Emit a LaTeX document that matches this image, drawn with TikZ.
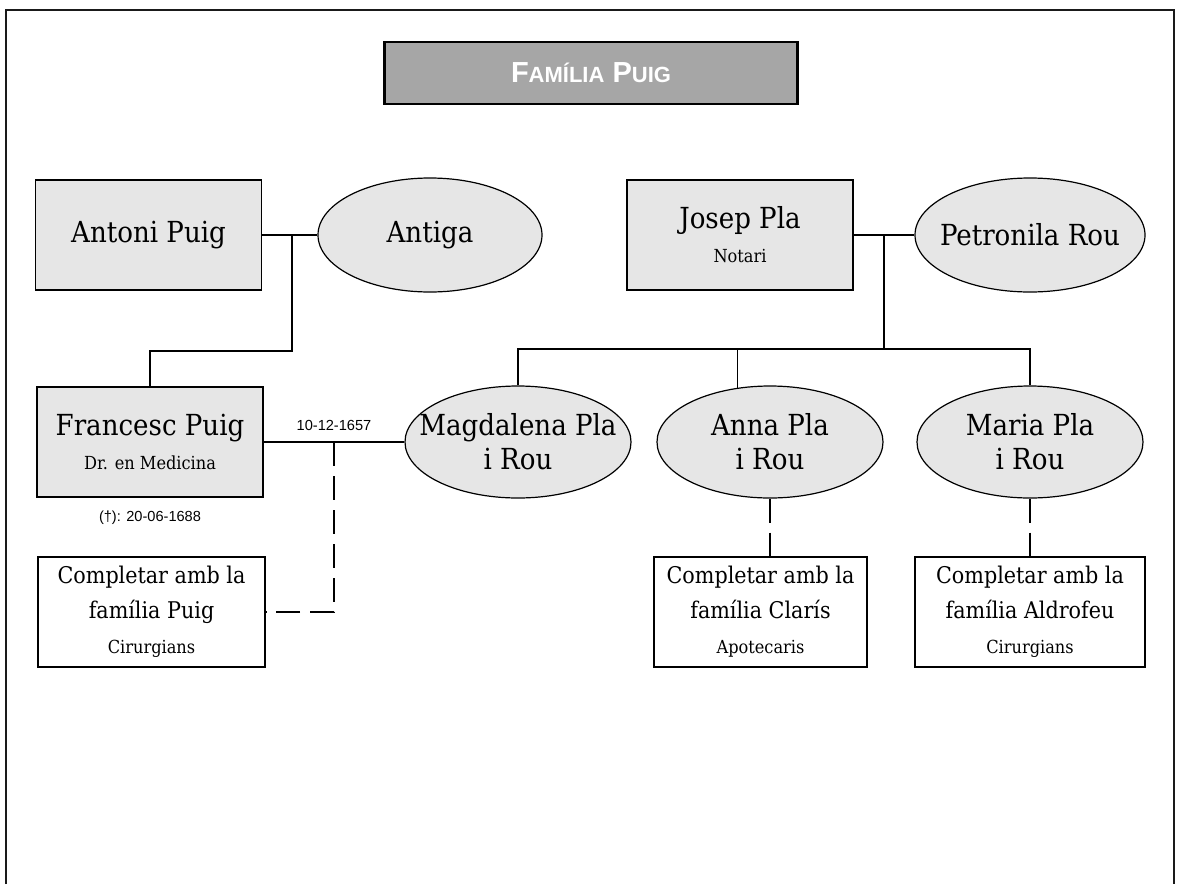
\documentclass[tikz,border=0pt]{standalone}
\usepackage{fontspec}
\setmainfont{DejaVu Serif Condensed}
\newfontfamily\sansf{Liberation Sans}
\usepackage{tikz}
\usetikzlibrary{positioning,shapes.geometric}
\definecolor{boxc}{HTML}{E6E6E6}
\definecolor{titlec}{HTML}{A6A6A6}
\definecolor{framec}{HTML}{1A1A1A}
\newcommand{\namesz}{\fontsize{14.5}{17}\selectfont}
\newcommand{\compsz}{\fontsize{11.5}{17.5}\selectfont}
\newcommand{\notesz}{\fontsize{9}{10}\selectfont}
\newcommand{\datesz}{\sansf\fontsize{7.3}{9}\selectfont}

\begin{document}
\begin{tikzpicture}[x=0.5pt, y=-0.5pt, line width=0.6pt,
  person/.style={draw, fill=boxc, minimum width=113pt, minimum height=55pt, inner sep=0pt, align=center, font=\namesz},
  spouse/.style={draw, fill=boxc, ellipse, minimum width=115pt, minimum height=56pt, inner xsep=-30pt, inner ysep=-6pt, align=center, font=\namesz},
  todo/.style={draw, fill=white, minimum height=55pt, inner sep=0pt, align=center, font=\compsz},
  cut/.style={dash pattern=on 12pt off 5pt}]
  \useasboundingbox (0,0) rectangle (1177,884);
  \draw[framec, line width=1pt] (6,884) -- (6,10) -- (1174,10) -- (1174,884);
  % title
  \node[draw, fill=titlec, line width=1.4pt, minimum width=206.5pt, minimum height=31pt, text=white] (title) at (591,73)
     {\sansf\bfseries\fontsize{14.5}{16}\selectfont F{\fontsize{11}{13}\selectfont AMÍLIA} P{\fontsize{11}{13}\selectfont UIG}};
  % parents
  \node[person] (antoni) at (148.5,235) {Antoni Puig};
  \node[spouse, minimum width=112pt, minimum height=57pt] (antiga) at (430,235) {Antiga};
  \node[person] (josep) at (740,235) {Josep Pla\\{\notesz Notari}};
  \node[spouse, minimum height=57pt] (petronila) at (1030,235) {Petronila Rou};
  % children
  \node[person] (francesc) at (150,442) {Francesc Puig\\{\notesz Dr. en Medicina}};
  \node[font=\datesz, below=3pt of francesc] (death) {(†): 20-06-1688};
  \foreach \n/\x/\w in {magda/518/Magdalena Pla,anna/770/Anna Pla,maria/1030/Maria Pla}
     \node[spouse, minimum width=113pt] (\n) at (\x,442) {\w\\i Rou};
  % still to complete
  \node[todo, minimum width=113.5pt] (compPuig) at (151.5,612) {Completar amb la\\família Puig\\{\notesz Cirurgians}};
  \node[todo, minimum width=106.5pt] (compClaris) at (760.5,612) {Completar amb la\\família Clarís\\{\notesz Apotecaris}};
  \node[todo, minimum width=115pt] (compAldro) at (1030,612) {Completar amb la\\família Aldrofeu\\{\notesz Cirurgians}};
  % marriages and descent
  \coordinate (wedA) at (292,235);
  \coordinate (wedJ) at (884,235);
  \coordinate (busJ) at (884,349);
  \draw (antoni.east) -- (antiga.west);
  \draw (wedA) -- (292,351) -| (francesc.north);
  \draw (josep.east) -- (petronila.west);
  \draw (wedJ) -- (busJ);
  \draw (magda.north) |- (maria.north |- busJ) -- (maria.north);
  \draw (anna.121) -- (anna.121 |- busJ);
  \draw (francesc.east |- magda.west) -- node[above=2pt, font=\datesz, pos=0.5] (wedding) {10-12-1657} coordinate[pos=0.5] (wedF) (magda.west);
  \draw[cut] (wedF) |- (compPuig.east);
  \draw[cut] (anna.south) -- (anna.south |- compClaris.north);
  \draw[cut] (maria.south) -- (compAldro.north);
\end{tikzpicture}
\end{document}
